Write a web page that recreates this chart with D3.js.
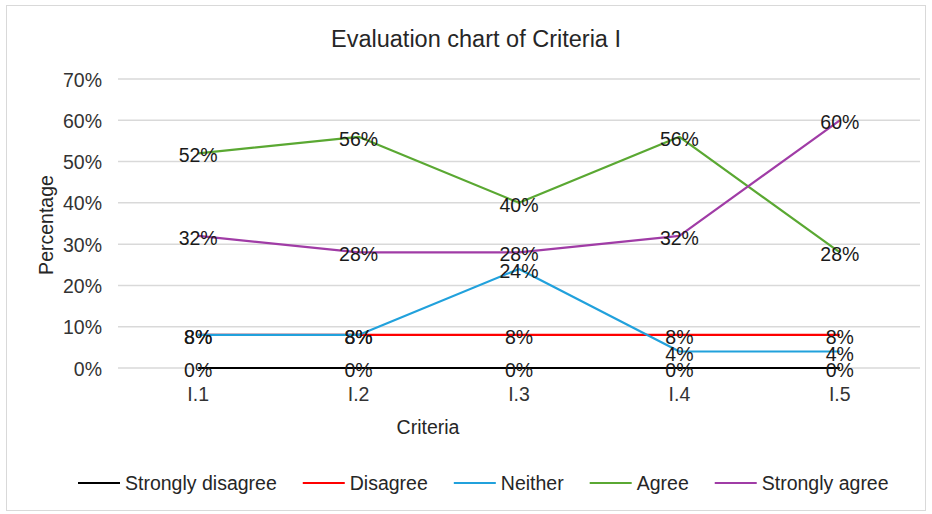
<!DOCTYPE html>
<html>
<head>
<meta charset="utf-8">
<script src="https://cdn.jsdelivr.net/npm/d3@7"></script>
<style>
  body { margin: 0; background: #fff; }
  svg { display: block; font-family: "Liberation Sans", Arial, sans-serif; }
</style>
</head>
<body>
<svg id="chart" width="932" height="514"></svg>
<script>
// data
const criteria = ["I.1", "I.2", "I.3", "I.4", "I.5"];
const seriesNames = ["Strongly disagree", "Disagree", "Neither", "Agree", "Strongly agree"];
const seriesColors = ["#000000", "#ff0000", "#21a1dc", "#5aa832", "#a03ca6"];
const stronglyDisagree = [0, 0, 0, 0, 0];
const disagree = [8, 8, 8, 8, 8];
const neither = [8, 8, 24, 4, 4];
const agree = [52, 56, 40, 56, 28];
const stronglyAgree = [32, 28, 28, 32, 60];
const yTicks = [0, 10, 20, 30, 40, 50, 60, 70];

const seriesValues = [stronglyDisagree, disagree, neither, agree, stronglyAgree];

const svg = d3.select("#chart");
const plot = { left: 118, right: 920, top: 79, bottom: 368 };

// outer frame
svg.append("rect")
  .attr("x", 6.5).attr("y", 5.5)
  .attr("width", 919).attr("height", 505)
  .attr("fill", "#fff")
  .attr("stroke", "#d9d9d9").attr("stroke-width", 1);

const x = d3.scaleBand().domain(criteria).range([plot.left, plot.right]);
const y = d3.scaleLinear().domain([0, 70]).range([plot.bottom, plot.top]);
const cx = (c) => x(c) + x.bandwidth() / 2;

// title
svg.append("text")
  .attr("x", 476).attr("y", 47)
  .attr("text-anchor", "middle")
  .attr("font-size", 23.5)
  .attr("fill", "#262626")
  .text("Evaluation chart of Criteria I");

// gridlines
svg.append("g")
  .selectAll("line")
  .data(yTicks)
  .enter().append("line")
  .attr("x1", plot.left).attr("x2", plot.right)
  .attr("y1", (d) => y(d)).attr("y2", (d) => y(d))
  .attr("stroke", "#d9d9d9").attr("stroke-width", 1.5);

// y axis labels (no domain line)
const yAxis = d3.axisLeft(y).tickValues(yTicks).tickSize(0).tickPadding(0)
  .tickFormat((d) => d + "%");
const yg = svg.append("g").attr("transform", `translate(102,0)`).call(yAxis);
yg.select(".domain").remove();
yg.selectAll("text")
  .attr("font-size", 19.5)
  .attr("font-family", "Liberation Sans, Arial, sans-serif")
  .attr("fill", "#333333")
  .attr("dy", "0.36em");

// x axis labels
const xAxis = d3.axisBottom(x).tickSize(0).tickPadding(0);
const xg = svg.append("g").attr("transform", `translate(0,${plot.bottom})`).call(xAxis);
xg.select(".domain").remove();
xg.selectAll("text")
  .attr("font-size", 19.5)
  .attr("font-family", "Liberation Sans, Arial, sans-serif")
  .attr("fill", "#333333")
  .attr("y", 33).attr("dy", 0);

// axis titles
svg.append("text")
  .attr("x", 428).attr("y", 434)
  .attr("text-anchor", "middle")
  .attr("font-size", 19.5)
  .attr("fill", "#262626")
  .text("Criteria");

svg.append("text")
  .attr("transform", "translate(53,225) rotate(-90)")
  .attr("text-anchor", "middle")
  .attr("font-size", 19.5)
  .attr("fill", "#262626")
  .text("Percentage");

// lines
const line = d3.line()
  .x((d, i) => cx(criteria[i]))
  .y((d) => y(d));

svg.append("g")
  .selectAll("path")
  .data(seriesValues)
  .enter().append("path")
  .attr("d", (d) => line(d))
  .attr("fill", "none")
  .attr("stroke", (d, i) => seriesColors[i])
  .attr("stroke-width", 2.2)
  .attr("stroke-linejoin", "round");

// data labels, on top of all lines (they overlap in the original too)
const labelG = svg.append("g");
seriesValues.forEach((vals) => {
  labelG.selectAll(null)
    .data(vals)
    .enter().append("text")
    .attr("x", (d, i) => cx(criteria[i]))
    .attr("y", (d) => y(d) + 2)
    .attr("dy", "0.36em")
    .attr("text-anchor", "middle")
    .attr("font-size", 19.5)
    .attr("fill", "#1a1a1a")
    .text((d) => d + "%");
});

// legend
const legend = svg.append("g").attr("transform", "translate(78,483)");
let lx = 0;
seriesNames.forEach((name, i) => {
  const item = legend.append("g").attr("transform", `translate(${lx},0)`);
  item.append("line")
    .attr("x1", 0).attr("x2", 42)
    .attr("y1", 0).attr("y2", 0)
    .attr("stroke", seriesColors[i]).attr("stroke-width", 2.2);
  const t = item.append("text")
    .attr("x", 47).attr("y", 0).attr("dy", "0.36em")
    .attr("font-size", 19.5)
    .attr("fill", "#262626")
    .text(name);
  lx += 47 + t.node().getComputedTextLength() + 26;
});
</script>
</body>
</html>
